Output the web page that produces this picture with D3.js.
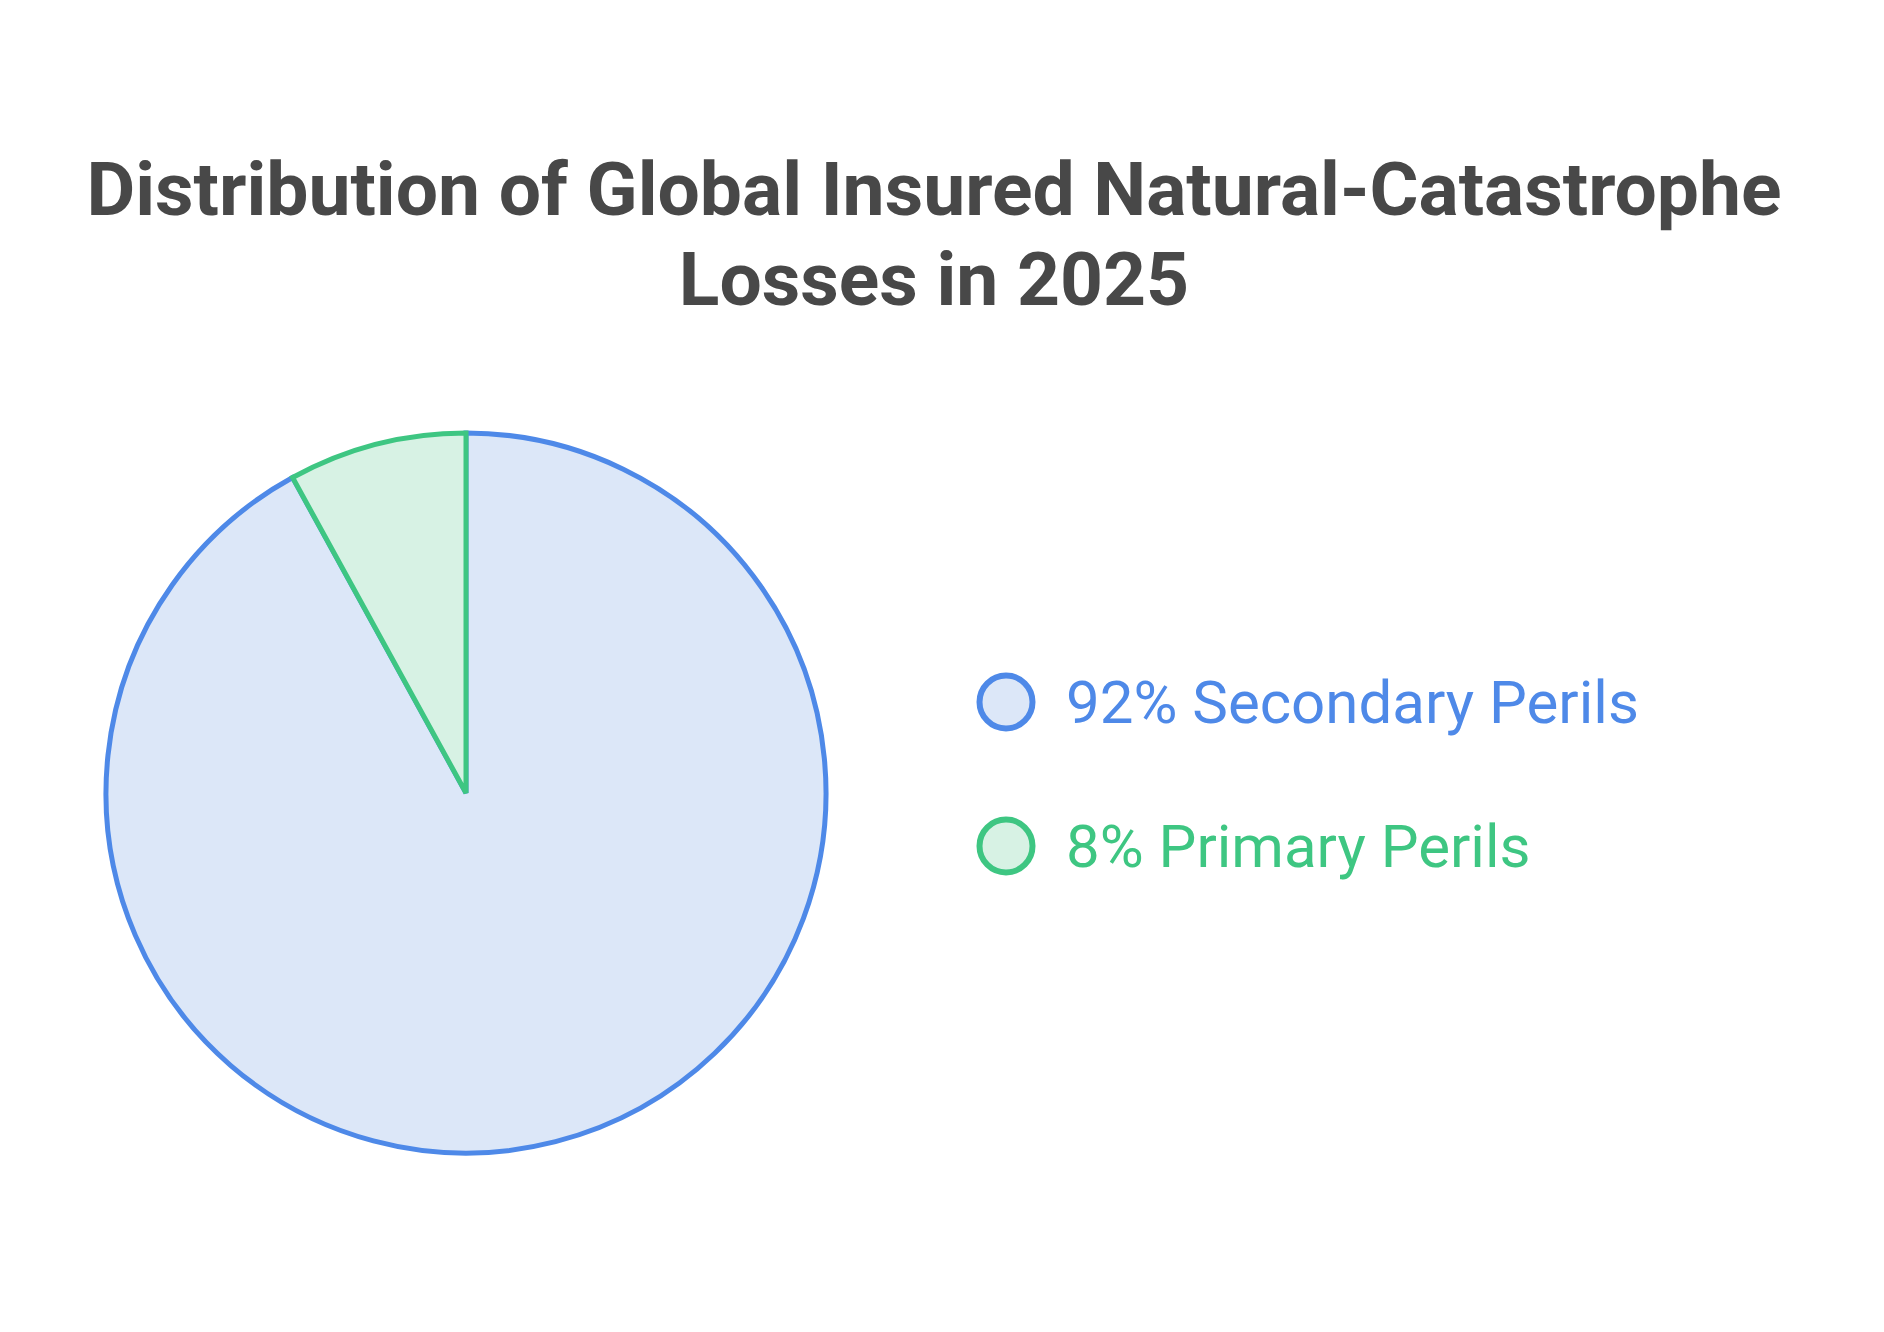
<!DOCTYPE html>
<html>
<head>
<meta charset="utf-8">
<script src="https://cdn.jsdelivr.net/npm/d3@7"></script>
<style>
  html, body { margin: 0; padding: 0; background: #fff; }
  svg { display: block; }
</style>
</head>
<body>
<svg id="chart" width="1884" height="1332"></svg>
<script>
// chart data
const titleLines = ["Distribution of Global Insured Natural-Catastrophe", "Losses in 2025"]
const categories = ["Secondary Perils", "Primary Perils"]
const shares = [92, 8]
const strokeColors = ["#4e89e8", "#3ec682"]
const fillColors = ["#dce7f8", "#d7f2e4"]

const svg = d3.select("#chart")

// title
svg.append("g")
    .selectAll("text")
    .data(titleLines)
    .join("text")
    .attr("x", 934)
    .attr("y", (d, i) => 215 + i * 90)
    .attr("text-anchor", "middle")
    .style("font-family", "Roboto, sans-serif")
    .style("font-weight", 700)
    .style("font-size", "75px")
    .style("fill", "#484848")
    .text(d => d)

// pie
let data = categories.map((c, i) => ({ name: c, value: shares[i] }))

let pie = d3.pie().sort(null).value(d => d.value)
let arc = d3.arc().innerRadius(0).outerRadius(360)

let color = d3.scaleOrdinal().domain(categories).range(strokeColors)
let fill = d3.scaleOrdinal().domain(categories).range(fillColors)

svg.append("g")
    .attr("transform", "translate(466,793)")
    .selectAll("path")
    .data(pie(data))
    .join("path")
    .attr("d", arc)
    .attr("fill", d => fill(d.data.name))
    .style("stroke", d => color(d.data.name))
    .style("stroke-width", 5)

// legend
let legendY = d3.scalePoint().domain(categories).range([702, 846])

let legend = svg.append("g")
    .selectAll("g")
    .data(data)
    .join("g")
    .attr("transform", d => `translate(1006,${legendY(d.name)})`)

legend.append("circle")
    .attr("r", 26.5)
    .attr("fill", d => fill(d.name))
    .style("stroke", d => color(d.name))
    .style("stroke-width", 6)

legend.append("text")
    .attr("x", 60)
    .attr("y", 21)
    .style("font-family", "Roboto, sans-serif")
    .style("font-size", "60px")
    .style("fill", d => color(d.name))
    .text(d => `${d.value}% ${d.name}`)
</script>
</body>
</html>
